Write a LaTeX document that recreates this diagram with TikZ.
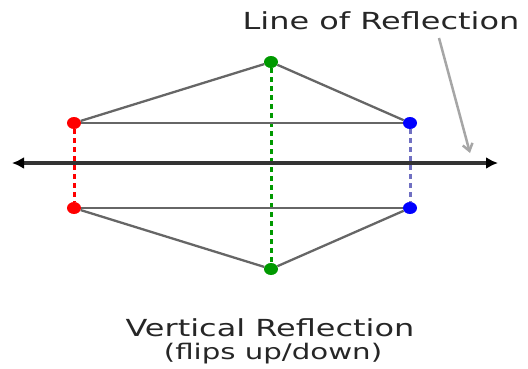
\documentclass[tikz,border=0pt]{standalone}
\usepackage{fontspec}
\newfontfamily\widesans[FakeStretch=1.36]{DejaVu Sans}
\usetikzlibrary{arrows.meta,shapes.geometric}
\begin{document}
\begin{tikzpicture}[x=1pt,y=-1pt,
  pt/.style={ellipse,inner sep=0pt,minimum width=14pt,minimum height=12pt},
  edge/.style={draw=black!60,line width=2.3pt},
  proj/.style={dashed,line width=3pt,dash pattern=on 5pt off 4pt},
  lbl/.style={font=\widesans\fontsize{23.5}{26}\selectfont,text=black!85,inner sep=0pt}]
\useasboundingbox (0,0) rectangle (528,368);
\node[pt,fill=red] (rt) at (74,123) {};
\node[pt,fill=blue] (bt) at (410,123) {};
\node[pt,fill=green!60!black] (gt) at (271,62) {};
\node[pt,fill=red] (rb) at (74,208) {};
\node[pt,fill=blue] (bb) at (410,208) {};
\node[pt,fill=green!60!black] (gb) at (271,269) {};
\coordinate (al) at (12,163);
\coordinate (ar) at (498,163);
\draw[proj,red] (rt) -- (rb);
\draw[proj,green!60!black] (gt) -- (gb);
\draw[proj,blue!40!gray!80] (bt) -- (bb);
\draw[black!80,line width=3.2pt,{Latex[length=12pt,width=12pt,color=black]}-{Latex[length=12pt,width=12pt,color=black]}] (al) -- (ar);
\draw[edge] (rt) -- (bt);
\draw[edge] (rt) -- (gt);
\draw[edge] (gt) -- (bt);
\draw[edge] (rb) -- (bb);
\draw[edge] (rb) -- (gb);
\draw[edge] (gb) -- (bb);
\node[lbl] (title) at (381,21) {Line of Reflection};
\coordinate (ps) at (439,38);
\coordinate (pe) at (470,153);
\draw[black!35,line width=2.5pt,-{Straight Barb[length=7pt,width=10pt]}] (ps) -- (pe);
\node[lbl] (cap1) at (270,328) {Vertical Reflection};
\node[lbl,font=\widesans\fontsize{21.5}{24}\selectfont] (cap2) at (273,354) {(flips up/down)};
\end{tikzpicture}
\end{document}
